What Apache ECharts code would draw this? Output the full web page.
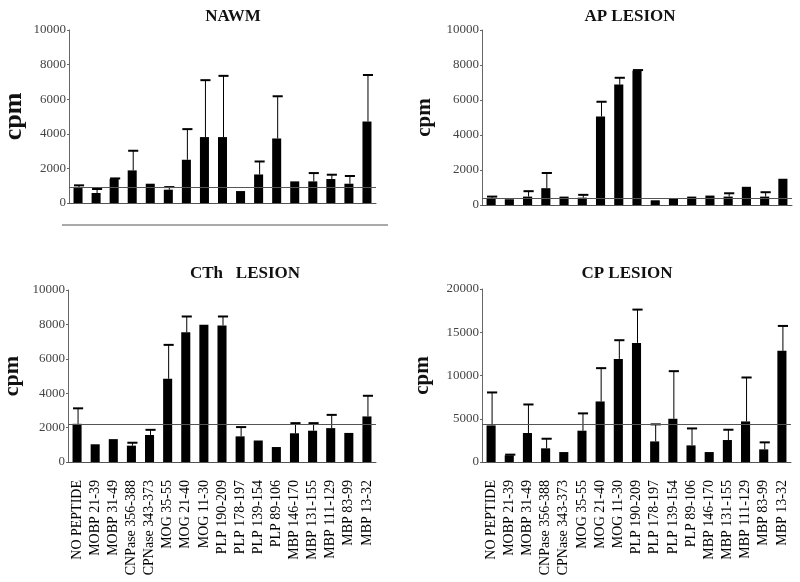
<!DOCTYPE html>
<html>
<head>
<meta charset="utf-8">
<script src="https://cdn.jsdelivr.net/npm/echarts@6/dist/echarts.min.js"></script>
<style>
html,body{margin:0;padding:0;background:#fff;}
#main{width:800px;height:582px;}
</style>
</head>
<body>
<div id="main"></div>
<script>
const categories = ["NO PEPTIDE","MOBP 21-39","MOBP 31-49","CNPase 356-388","CPNase 343-373","MOG 35-55","MOG 21-40","MOG 11-30","PLP 190-209","PLP 178-197","PLP 139-154","PLP 89-106","MBP 146-170","MBP 131-155","MBP 111-129","MBP 83-99","MBP 13-32"];

const nawmMean = [865,577,1385,1885,1115,770,2500,3810,3810,690,1650,3730,1250,1250,1385,1115,4710];
const nawmErr  = [1020,808,1420,3020,null,920,4270,7100,7350,null,2400,6170,null,1730,1635,1560,7400];
const nawmRef  = 900;

const apMean = [350,330,480,960,480,420,5060,6880,7670,270,400,480,540,480,1040,480,1500];
const apErr  = [480,null,790,1830,null,580,5900,7270,7710,null,null,null,null,670,null,730,null];
const apRef  = 365;

const cthMean = [2220,1030,1330,950,1570,4840,7550,7980,7940,1490,1250,870,1670,1820,1970,1690,2650];
const cthErr  = [3120,null,null,1120,1870,6810,8460,null,8460,2030,null,null,2260,2260,2740,null,3850];
const cthRef  = 2220;

const cpMean = [4230,770,3350,1580,1150,3620,7000,11920,13770,2380,5000,1920,1150,2540,4690,1460,12850];
const cpErr  = [8040,850,6650,2690,null,5620,10850,14080,17620,4350,10500,3880,null,3730,9770,2270,15730];
const cpRef  = 4350;

const titles = ["NAWM","AP LESION","CTh   LESION","CP LESION"];
const yMax = [10000,10000,10000,20000];
const yInterval = [2000,2000,2000,5000];

const panels = [
  {mean:nawmMean, err:nawmErr, ref:nawmRef},
  {mean:apMean, err:apErr, ref:apRef},
  {mean:cthMean, err:cthErr, ref:cthRef},
  {mean:cpMean, err:cpErr, ref:cpRef}
];

const serif = "'Liberation Serif', 'DejaVu Serif', serif";
const grids = [
  {left:67, top:30, width:309, height:173},
  {left:482, top:30, width:310, height:175},
  {left:67, top:290, width:309, height:172},
  {left:482, top:289, width:309, height:173}
];
const titlePos = [[228,3],[625,3],[240,260],[622,260]];
const nameGaps = [42,47,45,49];
const nameSizes = [26,21,22,21];

function errRender(params, api){
  const i = api.value(0);
  const top = api.coord([i, api.value(1)]);
  const base = api.coord([i, api.value(2)]);
  const hw = api.size([1,0])[0]*0.28;
  return {type:'group', children:[
    {type:'line', shape:{x1:top[0]+1, y1:top[1], x2:base[0]+1, y2:base[1]}, style:{stroke:'#000', lineWidth:1}},
    {type:'line', shape:{x1:top[0]-hw+1, y1:top[1], x2:top[0]+hw+1, y2:top[1]}, style:{stroke:'#000', lineWidth:2}}
  ]};
}

const option = {
  backgroundColor:'#fff',
  animation:false,
  title: titles.map((t,k)=>({
    text:t, left:titlePos[k][0], top:titlePos[k][1], textAlign:'center',
    textStyle:{fontFamily:serif, fontWeight:'bold', fontSize:17, color:'#111'}
  })),
  grid: grids,
  xAxis: grids.map((g,k)=>({
    type:'category', gridIndex:k, data:categories,
    axisLine:{lineStyle:{color:'#555', width:1}},
    axisTick:{show:false},
    axisLabel: k<2 ? {show:false} : {rotate:90, interval:0, margin:18, fontFamily:serif, fontSize:14, color:'#000'}
  })),
  yAxis: grids.map((g,k)=>({
    type:'value', gridIndex:k, min:0, max:yMax[k], interval:yInterval[k],
    name:'cpm', nameLocation:'middle', nameRotate:90, nameGap:nameGaps[k],
    nameTextStyle:{fontFamily:serif, fontWeight:'bold', fontSize:nameSizes[k], color:'#111'},
    axisLine:{show:true, lineStyle:{color:'#666', width:1}},
    axisTick:{show:true, length:2, lineStyle:{color:'#666'}},
    splitLine:{show:false},
    axisLabel:{fontFamily:serif, fontSize:13, color:'#444', margin:3, padding:[8,0,0,0],
      formatter:function(v){ return String(v); }}
  })),
  graphic:[
    {type:'line', shape:{x1:62, y1:225, x2:388, y2:225}, style:{stroke:'#555', lineWidth:1}}
  ],
  series: []
};

panels.forEach((p,k)=>{
  option.series.push({
    type:'bar', xAxisIndex:k, yAxisIndex:k, data:p.mean, barWidth:'50%',
    itemStyle:{color:'#000'},
    markLine:{symbol:'none', silent:true, label:{show:false},
      lineStyle:{color:'#555', type:'solid', width:1},
      data:[{yAxis:p.ref}]}
  });
  const ed = [];
  p.err.forEach((e,i)=>{ if(e!=null) ed.push([i, e, p.mean[i]]); });
  option.series.push({
    type:'custom', xAxisIndex:k, yAxisIndex:k, data:ed, renderItem:errRender,
    encode:{x:0, y:1}, z:3
  });
});

const chart = echarts.init(document.getElementById('main'), null, {renderer:'canvas'});
chart.setOption(option);
</script>
</body>
</html>
